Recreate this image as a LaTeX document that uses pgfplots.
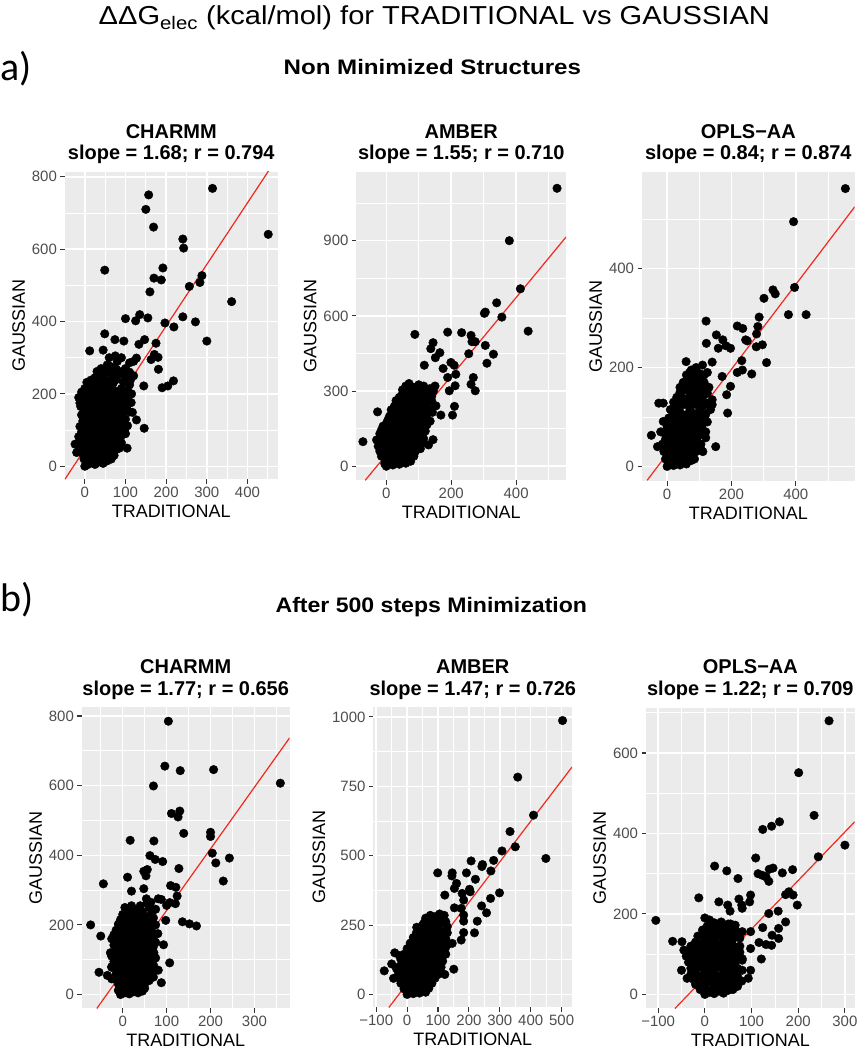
\documentclass[border=0pt]{standalone}
\usepackage{fontspec}
\setmainfont{Liberation Sans}
\newfontfamily\labfont{Carlito}
\usepackage{pgfplots}
\pgfplotsset{compat=1.18}
\definecolor{ggbg}{HTML}{EBEBEB}
\definecolor{tickc}{HTML}{333333}
\definecolor{tlc}{HTML}{4D4D4D}
\definecolor{fitred}{HTML}{F0281E}

\pgfplotsset{
  gg/.style={
    scale only axis, anchor=south west,
    axis background/.style={fill=ggbg},
    axis line style={draw=none},
    grid=both,
    major grid style={draw=white, line width=1.5pt},
    minor grid style={draw=white, line width=0.7pt},
    tick align=outside, tickpos=left,
    major tick length=4.5pt, minor tick length=0pt,
    tick style={draw=tickc, line width=1.1pt},
    ticklabel style={font=\fontsize{15}{15}\selectfont, text=tlc},
    label style={font=\fontsize{18}{18}\selectfont},
    xlabel=TRADITIONAL, ylabel=GAUSSIAN,
    scaled ticks=false,
    /pgf/number format/1000 sep={},
    /pgf/number format/assume math mode=true,
  },
  pts/.style={only marks, mark=*, mark size=4.3pt, mark options={draw=black, fill=black}},
  fit/.style={no marks, draw=fitred, line width=1.2pt},
}
\newcommand{\ptitle}{\fontsize{20}{20}\selectfont\bfseries}

\begin{document}
\begin{tikzpicture}
\path (0,0) rectangle (862pt,-1050pt);

% headings
\node[anchor=base] at (435pt,-25pt) {\scalebox{1.12}[1]{\fontsize{26}{26}\selectfont ΔΔG\textsubscript{elec} (kcal/mol) for TRADITIONAL vs GAUSSIAN}};
\node[anchor=base west, inner sep=0pt] at (0pt,-81pt) {\labfont\fontsize{40}{40}\selectfont a)};
\node[anchor=base west, inner sep=0pt] at (0pt,-612pt) {\labfont\fontsize{40}{40}\selectfont b)};
\node[anchor=base] at (433pt,-75pt) {\scalebox{1.15}[1]{\fontsize{21}{21}\selectfont\bfseries Non Minimized Structures}};
\node[anchor=base] at (432pt,-613pt) {\scalebox{1.1}[1]{\fontsize{21}{21}\selectfont\bfseries After 500 steps Minimization}};

% panel titles, top row
\node[anchor=base] at (171.5pt,-139pt) {\ptitle CHARMM};
\node[anchor=base] at (171.5pt,-160pt) {\ptitle slope = 1.68; r = 0.794};
\node[anchor=base] at (462pt,-139pt) {\ptitle AMBER};
\node[anchor=base] at (462pt,-160pt) {\ptitle slope = 1.55; r = 0.710};
\node[anchor=base] at (749.5pt,-139pt) {\ptitle OPLS−AA};
\node[anchor=base] at (749.5pt,-160pt) {\ptitle slope = 0.84; r = 0.874};
% panel titles, bottom row
\node[anchor=base] at (186pt,-675pt) {\ptitle CHARMM};
\node[anchor=base] at (186pt,-697pt) {\ptitle slope = 1.77; r = 0.656};
\node[anchor=base] at (473.5pt,-675pt) {\ptitle AMBER};
\node[anchor=base] at (473.5pt,-697pt) {\ptitle slope = 1.47; r = 0.726};
\node[anchor=base] at (751.5pt,-675pt) {\ptitle OPLS−AA};
\node[anchor=base] at (751.5pt,-697pt) {\ptitle slope = 1.22; r = 0.709};

% a) CHARMM
\begin{axis}[gg, at={(65pt,-480pt)}, width=213pt, height=308pt,
  xmin=-49, xmax=474, ymin=-36, ymax=814,
  xtick={0,100,200,300,400}, minor xtick={50,150,250,350,450},
  ytick={0,200,400,600,800}, minor ytick={100,300,500,700}]
\addplot[pts] coordinates {
(314,768)(157,750)(150,710)(169,661)(451,641)(241,628)(243,603)(49,542)(192,548)(288,527)
(283,508)(170,520)(188,515)(257,497)(160,482)(361,455)(100,408)(125,402)(135,419)(155,410)
(197,396)(241,413)(219,385)(272,399)(300,346)(49,366)(74,350)(96,346)(147,350)(133,337)
(175,340)(171,309)(180,301)(163,295)(45,321)(12,319)(127,299)(110,286)(181,268)(145,222)
(190,217)(204,222)(218,236)(146,105)(104,50)(83,50)(127,128)(86,123)(98,103)(114,176)
(117,149)(102,185)(-24,61)(-20,38)
(0,0)(8,5)(15,10)(25,5)(35,12)(45,8)(55,15)(65,20)(20,18)(5,15)
(-5,35)(5,40)(15,32)(25,45)(35,38)(45,48)(55,42)(65,50)(75,45)(85,50)(-15,60)
(-10,70)(0,65)(10,75)(20,62)(30,78)(40,68)(50,80)(60,72)(70,78)(80,70)(90,85)
(-8,95)(2,100)(12,90)(22,105)(32,95)(42,110)(52,98)(62,108)(72,95)(82,105)(95,100)
(-5,125)(5,130)(15,120)(25,138)(35,125)(45,140)(55,128)(65,135)(75,125)(85,140)(100,130)
(-10,165)(0,155)(10,165)(20,150)(30,168)(40,155)(50,170)(60,158)(70,165)(80,155)(95,160)(105,170)
(-15,190)(-5,185)(5,195)(15,180)(25,200)(35,185)(45,195)(55,185)(65,200)(80,190)(100,195)(115,200)
(0,215)(10,210)(20,225)(30,215)(40,228)(55,220)(70,230)(90,215)(110,225)
(25,245)(35,255)(45,242)(55,260)(70,250)(85,255)(100,245)(120,250)
(40,270)(55,280)(65,275)(80,290)(100,270)(120,290)
(2,22)(12,28)(22,25)(32,28)(42,25)(52,30)(62,32)(72,30)(-2,20)
(-12,50)(0,52)(10,55)(20,50)(30,58)(40,55)(50,60)(60,58)(70,62)(80,60)(90,65)
(-15,82)(-5,85)(5,88)(15,80)(25,88)(35,85)(45,90)(55,88)(65,92)(75,88)(85,95)(100,90)
(-12,110)(-2,112)(8,108)(18,115)(28,112)(38,120)(48,115)(58,120)(68,112)(78,118)(90,120)(105,112)
(-8,142)(2,145)(12,140)(22,150)(32,145)(42,150)(52,145)(62,150)(72,145)(82,148)(92,145)(110,150)
(-12,175)(-2,172)(8,178)(18,170)(28,180)(38,172)(48,182)(58,175)(68,180)(78,172)(90,178)(105,185)
(-8,205)(2,200)(12,198)(22,210)(32,200)(42,210)(52,202)(62,212)(75,208)(90,200)(105,210)
(5,232)(15,238)(30,235)(45,232)(60,238)(78,240)(95,232)(112,238)
(30,262)(48,268)(62,262)(78,268)(92,262)(110,260)
(60,300)(75,305)(90,300)
};
\addplot[fit] coordinates {(-49,-36)(474,854)};
\end{axis}

% a) AMBER
\begin{axis}[gg, at={(357pt,-481pt)}, width=210pt, height=309pt,
  xmin=-92, xmax=554, ymin=-56, ymax=1175,
  xtick={0,200,400}, minor xtick={100,300,500},
  ytick={0,300,600,900}, minor ytick={150,450,750,1050}]
\addplot[pts] coordinates {
(526,1109)(379,900)(413,708)(340,652)(305,615)(302,610)(356,595)(437,539)(305,482)(330,447)
(310,411)(88,526)(189,535)(232,533)(261,522)(264,497)(274,497)(254,449)(144,493)(137,469)
(151,433)(165,453)(117,403)(199,414)(209,403)(214,367)(175,390)(189,354)(212,321)(194,301)
(261,327)(268,354)(274,301)(204,204)(210,239)(168,204)(142,215)(144,106)(130,85)(82,66)
(-72,98)(-27,217)(137,301)(106,257)(127,235)(106,188)(153,241)
(0,0)(10,10)(20,5)(30,15)(40,8)(50,20)(60,12)(5,20)
(-15,40)(-5,45)(5,35)(15,50)(25,40)(35,55)(45,40)(55,50)(65,45)(75,55)(85,40)
(-25,80)(-15,90)(-5,75)(5,85)(15,70)(25,90)(35,80)(45,95)(55,80)(65,90)(75,75)(85,90)(95,80)(105,70)
(-20,130)(-10,120)(0,135)(10,115)(20,130)(30,120)(40,135)(50,118)(60,130)(70,120)(80,135)(90,120)(105,125)(115,110)
(-10,160)(0,170)(10,155)(20,170)(30,160)(40,175)(50,155)(60,170)(70,160)(80,175)(90,158)(100,170)(115,160)(125,165)
(10,200)(20,210)(30,195)(40,205)(50,215)(60,200)(70,210)(80,195)(90,210)(100,200)(110,215)(125,205)
(25,240)(35,250)(45,235)(55,255)(65,240)(75,250)(85,238)(95,255)(110,245)(125,235)
(40,275)(50,290)(60,280)(70,295)(80,275)(95,285)(110,280)(125,290)(140,280)
(60,320)(70,330)(85,315)(100,325)(115,320)(135,310)(150,320)
(-5,10)(15,15)(25,25)(35,25)(45,28)(55,30)(65,25)(75,20)
(-20,60)(-10,62)(0,58)(10,65)(20,60)(30,68)(40,62)(50,70)(60,65)(70,72)(80,65)(90,60)
(-30,105)(-20,100)(-10,105)(0,100)(10,108)(20,102)(30,108)(40,100)(50,108)(60,102)(70,108)(80,100)(90,105)(100,95)(110,92)
(-15,145)(-5,148)(5,142)(15,150)(25,145)(35,150)(45,140)(55,150)(65,145)(75,150)(85,140)(95,148)(110,145)(120,140)
(5,185)(15,182)(25,188)(35,180)(45,190)(55,185)(65,188)(75,180)(85,190)(95,185)(105,190)(120,185)(135,180)
(15,225)(25,228)(35,222)(45,225)(55,230)(65,222)(75,228)(85,222)(95,230)(105,225)(120,222)(135,225)
(30,262)(45,265)(55,270)(65,262)(75,268)(90,265)(105,268)(120,262)(140,260)
(50,305)(65,310)(78,300)(92,305)(108,300)(125,305)(145,300)
};
\addplot[fit] coordinates {(-65,-56)(554,915)};
\end{axis}

% a) OPLS-AA
\begin{axis}[gg, at={(643pt,-482pt)}, width=213pt, height=310pt,
  xmin=-78, xmax=583, ymin=-30, ymax=596,
  xtick={0,200,400}, minor xtick={100,300,500},
  ytick={0,200,400}, minor ytick={100,300,500}]
\addplot[pts] coordinates {
(554,562)(393,495)(396,362)(377,307)(432,307)(329,357)(336,349)(301,340)(286,302)(282,283)
(278,268)(296,246)(309,210)(277,242)(218,284)(235,279)(244,256)(249,254)(121,294)(122,249)
(153,266)(159,239)(173,256)(183,244)(197,239)(140,211)(232,214)(234,195)(263,187)(218,190)
(171,182)(197,162)(185,145)(188,108)(151,40)(111,30)(-49,63)(-12,128)(59,212)(107,185)
(0,0)(10,5)(20,2)(30,8)(40,3)(50,10)(60,5)(70,12)(5,12)
(-10,30)(0,25)(10,35)(20,22)(30,30)(40,20)(50,32)(60,25)(70,35)(80,22)(90,30)
(-15,45)(-5,55)(5,50)(15,60)(25,45)(35,55)(45,50)(55,60)(65,45)(75,55)(85,50)(95,60)(105,45)
(0,80)(10,85)(20,75)(30,90)(40,80)(50,90)(60,78)(70,88)(80,75)(90,90)(100,80)(110,85)(120,70)
(10,115)(20,105)(30,120)(40,110)(50,125)(60,105)(70,118)(80,108)(90,125)(100,110)(110,120)(120,105)(135,115)
(30,140)(40,150)(50,138)(60,155)(70,142)(80,150)(90,140)(100,152)(110,140)(125,148)(140,135)
(50,170)(60,165)(70,180)(80,172)(90,165)(100,175)(115,170)(130,160)
(75,195)(90,200)(110,205)(125,190)
(-26,128)(-12,91)(-20,70)(-30,40)
(-5,15)(15,15)(25,15)(35,12)(45,18)(55,15)(65,20)(75,12)(85,15)
(-5,40)(5,42)(15,38)(25,35)(35,42)(45,38)(55,45)(65,38)(75,42)(85,38)(95,42)(105,35)
(-10,68)(0,65)(10,70)(20,65)(30,70)(40,68)(50,72)(60,65)(70,70)(80,65)(90,72)(100,68)(110,65)(120,58)
(5,98)(15,95)(25,100)(35,98)(45,102)(55,95)(65,100)(75,95)(85,102)(95,98)(105,100)(115,95)(125,90)
(20,130)(30,128)(40,132)(50,128)(60,130)(70,132)(80,128)(90,132)(100,128)(110,130)(125,128)(140,125)
(40,160)(50,155)(60,160)(70,158)(80,162)(90,155)(100,160)(110,158)(125,155)
(60,185)(70,190)(85,185)(100,188)(115,185)
};
\addplot[fit] coordinates {(-62,-28)(583,525)};
\end{axis}

% b) CHARMM
\begin{axis}[gg, at={(82pt,-1010pt)}, width=208pt, height=302pt,
  xmin=-93, xmax=380, ymin=-40, ymax=826,
  xtick={0,100,200,300}, minor xtick={-50,50,150,250,350},
  ytick={0,200,400,600,800}, minor ytick={100,300,500,700}]
\addplot[pts] coordinates {
(104,785)(96,656)(131,643)(207,646)(70,599)(359,607)(111,520)(130,527)(126,510)(139,463)
(200,466)(200,454)(17,443)(71,441)(204,406)(212,378)(243,392)(229,326)(-44,318)(11,337)
(62,399)(74,388)(91,382)(48,354)(56,359)(128,362)(20,297)(53,341)(109,313)(121,308)
(124,283)(107,264)(100,256)(98,213)(120,261)(136,209)(152,203)(168,197)(-73,200)(-50,168)
(-54,64)(81,275)(64,265)(88,273)(107,91)(81,70)(88,34)(71,120)(93,143)(54,275)(48,304)
(-5,0)(5,5)(15,2)(25,8)(35,5)(45,10)(10,15)
(-10,30)(0,35)(10,25)(20,38)(30,28)(40,35)(50,30)(60,40)(-25,45)(-35,55)
(-15,60)(-5,70)(5,55)(15,65)(25,58)(35,70)(45,60)(55,68)(65,55)
(-20,95)(-10,100)(0,90)(10,105)(20,95)(30,100)(40,90)(50,105)(60,95)(70,85)
(-15,125)(-5,130)(5,120)(15,135)(25,125)(35,130)(45,120)(55,135)(65,125)
(-10,160)(0,150)(10,165)(20,155)(30,160)(40,150)(50,165)(60,155)(75,150)
(-15,185)(-5,190)(5,180)(15,195)(25,185)(35,190)(45,180)(55,195)(65,185)(80,175)
(-5,215)(5,225)(15,210)(25,220)(35,215)(45,225)(55,210)(70,220)
(15,240)(25,235)(35,245)(45,238)(60,250)(75,245)
(-25,160)(-28,120)(-25,80)
(0,15)(20,18)(30,15)(40,20)(50,18)(-10,12)
(-20,45)(-10,48)(0,45)(10,50)(20,45)(30,50)(40,45)(50,50)(60,45)(70,50)
(-25,78)(-15,80)(-5,85)(5,78)(15,82)(25,78)(35,85)(45,78)(55,82)(65,78)(75,70)
(-25,110)(-15,112)(-5,115)(5,110)(15,115)(25,110)(35,115)(45,110)(55,115)(65,110)(75,105)
(-20,142)(-10,145)(0,140)(10,145)(20,140)(30,145)(40,138)(50,145)(60,140)(70,138)
(-20,172)(-10,175)(0,170)(10,175)(20,170)(30,175)(40,168)(50,175)(60,170)(70,165)
(-10,202)(0,205)(10,200)(20,205)(30,200)(40,205)(50,200)(60,205)(75,200)
(0,230)(10,228)(20,230)(30,228)(40,230)(50,225)(65,232)
(5,250)(20,255)(40,255)(55,262)
};
\addplot[fit] coordinates {(-59,-40)(380,737)};
\end{axis}

% b) AMBER
\begin{axis}[gg, at={(374pt,-1009pt)}, width=199pt, height=301pt,
  xmin=-109, xmax=534, ymin=-47, ymax=1036,
  xtick={-100,0,100,200,300,400,500}, xticklabels={−100,0,100,200,300,400,500},
  minor xtick={-50,50,150,250,350,450},
  ytick={0,250,500,750,1000}, minor ytick={125,375,625,875}]
\addplot[pts] coordinates {
(503,987)(358,783)(409,646)(333,587)(307,517)(350,532)(449,490)(280,483)(271,445)(244,468)
(242,461)(207,481)(192,438)(221,415)(99,438)(146,438)(145,427)(153,382)(160,400)(178,364)
(202,379)(204,370)(183,340)(299,366)(270,346)(241,319)(257,294)(227,264)(218,222)(122,358)
(153,312)(175,310)(183,286)(183,264)(183,223)(175,196)(146,184)(151,91)(122,72)(-74,85)
(31,242)(67,226)(114,276)(130,244)
(0,0)(10,8)(20,3)(30,12)(40,5)(50,15)(60,8)(5,15)
(-20,40)(-10,50)(0,35)(10,45)(20,38)(30,50)(40,40)(50,52)(60,42)(70,55)(80,40)
(-30,85)(-20,75)(-10,90)(0,80)(10,95)(20,78)(30,88)(40,75)(50,92)(60,80)(70,90)(80,78)(90,88)(100,72)
(-20,125)(-10,115)(0,130)(10,120)(20,135)(30,115)(40,128)(50,118)(60,135)(70,122)(80,130)(90,118)(100,130)(115,120)
(0,165)(10,155)(20,170)(30,160)(40,175)(50,155)(60,168)(70,158)(80,172)(90,160)(100,175)(110,160)(125,170)
(20,205)(30,195)(40,210)(50,200)(60,215)(70,198)(80,210)(90,200)(100,215)(110,205)(125,200)
(40,240)(50,250)(60,235)(70,255)(80,245)(90,260)(100,245)(110,255)
(60,275)(75,285)(90,280)(105,290)(120,285)
(-44,58)(-40,150)(-25,140)(-50,110)(-35,95)
(-10,20)(0,18)(10,22)(20,20)(30,25)(40,22)(50,28)(60,25)(70,22)
(-30,62)(-20,60)(-10,65)(0,58)(10,62)(20,58)(30,68)(40,60)(50,68)(60,62)(70,68)(80,60)(90,58)
(-25,100)(-15,105)(-5,102)(5,108)(15,100)(25,105)(35,100)(45,108)(55,100)(65,108)(75,100)(85,105)(95,100)(110,98)
(-10,145)(0,148)(10,140)(20,150)(30,142)(40,150)(50,140)(60,150)(70,142)(80,150)(90,140)(100,150)(115,142)(125,145)
(10,185)(20,188)(30,180)(40,190)(50,182)(60,190)(70,180)(80,190)(90,182)(100,190)(115,185)(130,180)
(30,222)(40,225)(50,220)(60,228)(70,220)(80,228)(90,220)(100,230)(115,225)(130,222)
(55,258)(65,265)(80,262)(95,268)(110,270)(125,262)
};
\addplot[fit] coordinates {(-59,-47)(534,820)};
\end{axis}

% b) OPLS-AA
\begin{axis}[gg, at={(647pt,-1010pt)}, width=209pt, height=301pt,
  xmin=-126, xmax=321, ymin=-35, ymax=712,
  xtick={-100,0,100,200,300}, xticklabels={−100,0,100,200,300},
  minor xtick={-50,50,150,250},
  ytick={0,200,400,600}, minor ytick={100,300,500,700}]
\addplot[pts] coordinates {
(266,680)(201,551)(234,445)(160,429)(143,418)(124,410)(300,371)(243,342)(109,339)(21,319)
(47,307)(71,288)(146,314)(138,311)(114,300)(123,296)(131,292)(137,281)(166,302)(188,310)
(-13,240)(30,230)(49,222)(54,207)(73,237)(79,222)(98,247)(96,230)(80,214)(137,201)
(157,207)(173,248)(180,255)(189,247)(198,222)(173,180)(158,164)(144,147)(124,166)(131,124)
(143,122)(158,139)(116,129)(121,88)(98,156)(98,114)(80,89)(98,60)(93,40)(79,33)
(-105,184)(-69,132)(-49,131)(-50,60)(-38,40)(59,135)(80,156)
(0,0)(10,5)(20,2)(30,8)(40,3)(50,10)(15,12)
(-20,25)(-10,30)(0,22)(10,32)(20,25)(30,35)(40,25)(50,35)(60,28)(70,20)
(-30,50)(-20,55)(-10,45)(0,58)(10,48)(20,55)(30,45)(40,58)(50,50)(60,55)(70,45)
(-35,80)(-25,75)(-15,85)(-5,75)(5,85)(15,72)(25,82)(35,75)(45,85)(55,72)(65,80)
(-30,105)(-20,100)(-10,110)(0,100)(10,112)(20,98)(30,108)(40,100)(50,112)(60,100)(75,105)
(-20,130)(-10,125)(0,138)(10,128)(20,135)(30,125)(40,138)(50,128)(60,140)
(-5,160)(5,155)(15,168)(25,158)(35,165)(45,155)(55,168)(65,160)
(10,185)(20,178)(35,180)(50,175)(0,190)
(-30,120)(-40,95)(-45,110)
(-10,12)(0,12)(5,8)(25,15)(35,18)(45,15)(55,18)(60,12)
(-25,38)(-15,40)(-5,38)(5,42)(15,38)(25,42)(35,38)(45,42)(55,40)(65,38)(75,35)
(-30,65)(-20,65)(-10,68)(0,65)(10,68)(20,62)(30,68)(40,65)(50,68)(60,62)(70,65)(80,60)
(-30,92)(-20,88)(-10,95)(0,88)(10,95)(20,88)(30,95)(40,90)(50,95)(60,88)(70,92)(80,85)
(-25,118)(-15,118)(-5,120)(5,115)(15,120)(25,115)(35,122)(45,118)(55,120)(65,118)(75,120)
(-15,145)(-5,148)(5,142)(15,150)(25,145)(35,150)(45,145)(55,150)(65,145)(75,140)
(5,170)(15,172)(25,168)(35,172)(45,168)(55,175)(65,172)
};
\addplot[fit] coordinates {(-64,-35)(321,429)};
\end{axis}
\end{tikzpicture}
\end{document}
